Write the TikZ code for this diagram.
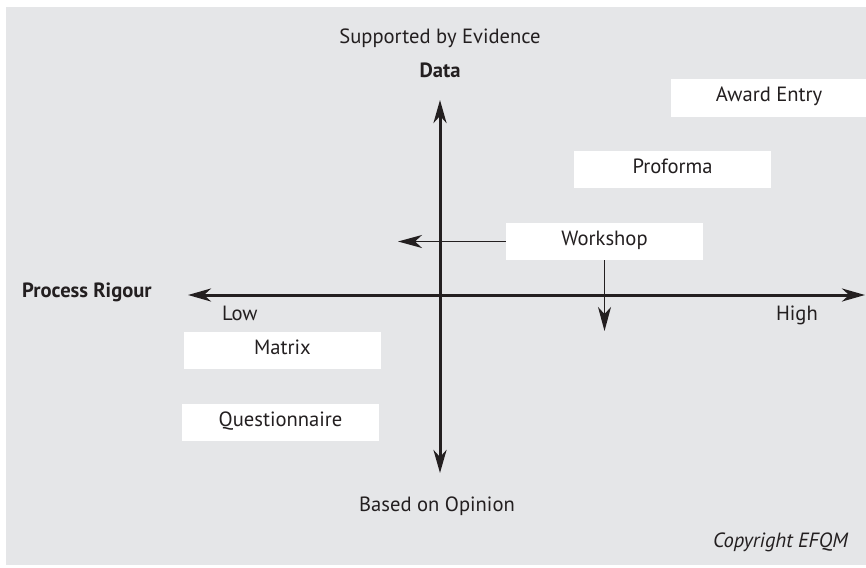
\documentclass[tikz,border=0pt]{standalone}
\usepackage{fontspec}
\setmainfont{PT Sans}
\usetikzlibrary{arrows.meta}
\definecolor{panel}{HTML}{E5E6E8}
\definecolor{ink}{HTML}{231F20}
\tikzset{
  entry/.style={fill=white,inner sep=0pt,minimum width=197pt,minimum height=37pt,
    text height=14pt,text depth=7pt,text=ink},
  axis/.style={line width=3pt,ink,{Stealth[length=23pt,width=13pt,inset=7pt]}-{Stealth[length=23pt,width=13pt,inset=7pt]}},
  pointer/.style={line width=1.5pt,ink,-{Stealth[length=24pt,width=13pt,inset=7pt]}},
  lbl/.style={text=ink,inner sep=0pt}
}
\begin{document}
\begin{tikzpicture}[x=1pt,y=-1pt,font=\fontsize{20.6}{24}\selectfont]
\useasboundingbox (0,0) rectangle (866,567);
\fill[panel] (6,7) rectangle (866,565);

% the two axes
\coordinate (lo) at (188,295);
\coordinate (hi) at (865,295);
\coordinate (top) at (440,100);
\coordinate (bot) at (440,473);
\draw[axis] (lo) -- (hi);
\draw[axis] (bot) -- (top);

\node[lbl,anchor=base] (sup) at (440,44) {Supported by Evidence};
\node[lbl,anchor=base,font=\fontsize{20.6}{24}\selectfont\bfseries] (data) at (440,78) {Data};
\node[lbl,anchor=base] (opin) at (437,511) {Based on Opinion};
\node[lbl,anchor=base west,font=\fontsize{20.6}{24}\selectfont\bfseries] (rig) at (22,297) {Process Rigour};
\node[lbl,anchor=base west] (low) at (222,320) {Low};
\node[lbl,anchor=base east] (high) at (818,320) {High};

% the methods
\node[entry] (award) at (769,98) {Award Entry};
\node[entry] (proforma) at (672.5,169.5) {Proforma};
\node[entry] (workshop) at (604.5,241.5) {Workshop};
\node[entry] (matrix) at (282.5,350.5) {Matrix};
\node[entry] (quest) at (280.5,422.5) {Questionnaire};

\coordinate (wsleft) at (398,241.5);
\coordinate (wsdown) at (604.5,331);
\draw[pointer] (workshop.west) -- (wsleft);
\draw[pointer] (workshop.south) -- (wsdown);

\node[lbl,anchor=base east,font=\fontsize{20.6}{24}\selectfont\itshape] (copy) at (848,547) {Copyright EFQM};
\end{tikzpicture}
\end{document}
